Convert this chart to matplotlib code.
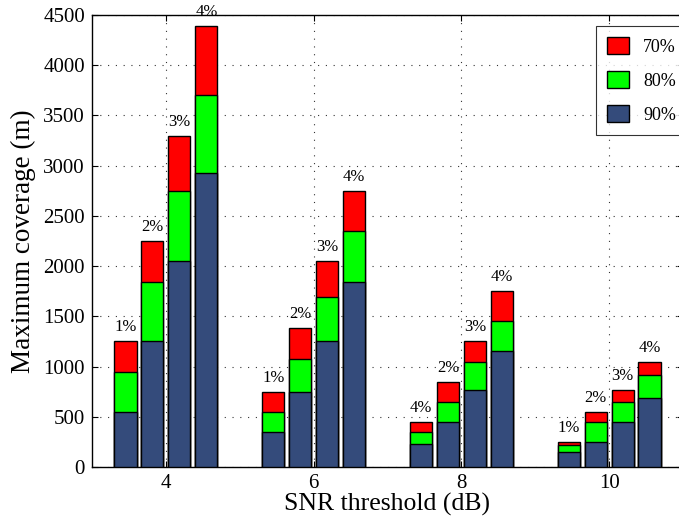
import numpy as np
import matplotlib
matplotlib.use("Agg")
import matplotlib.pyplot as plt

# SNR thresholds (dB) and the four outage settings per threshold
snr = [4, 6, 8, 10]
pct_labels = [["1%", "2%", "3%", "4%"],
              ["1%", "2%", "3%", "4%"],
              ["4%", "2%", "3%", "4%"],
              ["1%", "2%", "3%", "4%"]]

# Maximum coverage (m) for each reliability level, rows = SNR, cols = outage
cov70 = [[1250, 2250, 3300, 4390],
         [750, 1380, 2050, 2750],
         [450, 850, 1250, 1750],
         [250, 550, 770, 1050]]
cov80 = [[950, 1840, 2750, 3700],
         [550, 1075, 1690, 2350],
         [350, 650, 1050, 1450],
         [220, 450, 650, 920]]
cov90 = [[550, 1250, 2050, 2930],
         [350, 750, 1250, 1840],
         [230, 450, 770, 1150],
         [150, 250, 450, 690]]

series = [("70%", cov70, "#ff0000"),
          ("80%", cov80, "#00ff00"),
          ("90%", cov90, "#344b7b")]

plt.rcParams["font.family"] = ["Liberation Serif", "DejaVu Serif"]

W, H = 679, 517
fig = plt.figure(figsize=(W / 100, H / 100), dpi=100)
ax = fig.add_axes([92 / W, 50 / H, 591 / W, 452 / H])

pitch = 0.365
width = 0.30
offsets = (np.arange(4) - 1.5) * pitch

for name, data, color in series:
    for gi, x0 in enumerate(snr):
        ax.bar(x0 + offsets, data[gi], width=width, color=color,
               edgecolor="black", linewidth=1.0, zorder=3,
               label=name if gi == 0 else None)

for gi, x0 in enumerate(snr):
    for bi in range(4):
        ax.text(x0 + offsets[bi], cov70[gi][bi] + 60, pct_labels[gi][bi],
                ha="center", va="bottom", fontsize=12, zorder=4)

ax.set_xlim(3, 11)
ax.set_ylim(0, 4500)
ax.set_xticks(snr)
ax.set_yticks(np.arange(0, 4501, 500))
ax.tick_params(direction="in", length=4, labelsize=15, top=True, right=True, pad=5)
ax.grid(True, linestyle=(0, (1, 6)), color="black", linewidth=0.8, alpha=0.8, zorder=0)
for s in ax.spines.values():
    s.set_linewidth(1.0)

ax.set_xlabel("SNR threshold (dB)", fontsize=18.5, labelpad=0)
ax.set_ylabel("Maximum coverage (m)", fontsize=19.5, labelpad=5)

leg = ax.legend(loc="upper left", bbox_to_anchor=(596 / W, 1 - 26 / H),
                bbox_transform=fig.transFigure, fontsize=13,
                frameon=True, fancybox=False, edgecolor="black",
                handlelength=1.22, handleheight=1.1, labelspacing=0.85,
                borderpad=0.6, handletextpad=0.8, borderaxespad=0)
leg.get_frame().set_linewidth(0.8)

fig.savefig("out.png", dpi=100)
